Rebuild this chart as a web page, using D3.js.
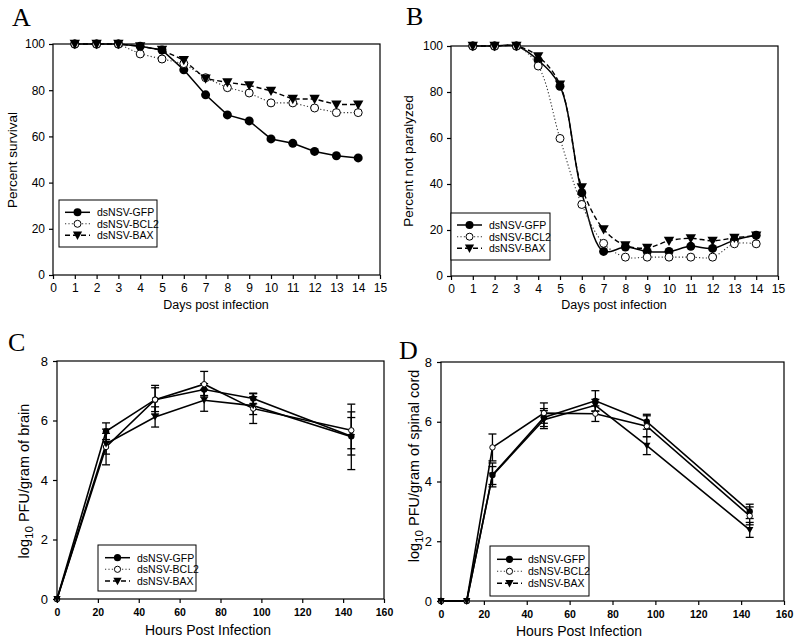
<!DOCTYPE html>
<html><head><meta charset="utf-8">
<script src="https://cdn.jsdelivr.net/npm/d3@7"></script>
<style>body{margin:0;background:#fff}svg{display:block}</style>
</head><body>
<svg id="c" width="800" height="642"></svg>
<script>
// ---------- DATA ----------
const seriesNames = ["dsNSV-GFP", "dsNSV-BCL2", "dsNSV-BAX"];
const days = [1,2,3,4,5,6,7,8,9,10,11,12,13,14];
const dayTicks = [0,1,2,3,4,5,6,7,8,9,10,11,12,13,14,15];
const pctTicks = [0,20,40,60,80,100];
// Panel A: percent survival
const survGFP  = [100,100,100,99,97.4,88.8,78,69.3,66.7,58.9,57,53.5,51.6,50.7];
const survBCL2 = [100,100,100,95.7,93.5,91.5,85.4,81.1,78.8,74.5,74.5,72.3,70.3,70.3];
const survBAX  = [100,100,100,99,97.4,93,85,83.4,82.1,79.7,76.2,76.2,73.8,73.8];
// Panel B: percent not paralyzed
const paraGFP  = [100,100,100,93.8,82.5,36.2,10.7,12.6,10.7,10.7,12.9,12,15.6,17.7];
const paraBCL2 = [100,100,100,91.3,59.8,31.1,14.2,8.2,8.2,8.2,8.2,8.2,14,14];
const paraBAX  = [100,100,100,95.5,83.2,38.5,20.3,13.3,12.2,15.3,16.4,15.3,16.6,17.5];
// Panel C: log10 PFU / gram of brain
const hoursC = [0,24,48,72,96,144];
const brainGFP     = [0,5.64,6.70,7.04,6.74,5.47];
const brainGFPErr  = [0,0.28,0.48,0.20,0.18,0.63];
const brainBCL2    = [0,5.11,6.70,7.22,6.40,5.67];
const brainBCL2Err = [0,0.60,0.40,0.43,0.50,0.62];
const brainBAX     = [0,5.22,6.12,6.68,6.50,5.45];
const brainBAXErr  = [0,0.35,0.34,0.37,0.30,1.10];
// Panel D: log10 PFU / gram of spinal cord
const hoursD = [0,12,24,48,72,96,144];
const cordGFP     = [0,0,4.22,6.14,6.70,6.00,3.00];
const cordGFPErr  = [0,0,0.40,0.30,0.34,0.25,0.24];
const cordBCL2    = [0,0,5.14,6.29,6.27,5.85,2.85];
const cordBCL2Err = [0,0,0.45,0.34,0.26,0.35,0.30];
const cordBAX     = [0,0,4.20,6.07,6.55,5.20,2.38];
const cordBAXErr  = [0,0,0.30,0.30,0.20,0.30,0.25];
const hourTicks = [0,20,40,60,80,100,120,140,160];
const logTicks = [0,2,4,6,8];

// ---------- DRAWING ----------
const svg = d3.select("#c");
const SANS = "'Liberation Sans', Arial, sans-serif";
const SERIF = "'Liberation Serif', 'Times New Roman', serif";
const lineStyles = [
  {dash: null, color: "#000", w: 1.5},
  {dash: "1.2,2.2", color: "#333", w: 1.1},
  {dash: "5,3", color: "#000", w: 1.4}
];

function marker(g, type, x, y, r) {
  if (type === 0) {
    g.append("circle").attr("cx", x).attr("cy", y).attr("r", r).attr("fill", "#000");
  } else if (type === 1) {
    g.append("circle").attr("cx", x).attr("cy", y).attr("r", r - 0.5).attr("fill", "#fff").attr("stroke", "#000").attr("stroke-width", 1);
  } else {
    const s = r * 1.15;
    g.append("path").attr("d", `M${x - s},${y - s * 0.8}L${x + s},${y - s * 0.8}L${x},${y + s * 1.0}Z`).attr("fill", "#000");
  }
}

function panel(o) {
  const g = svg.append("g");
  const x = d3.scaleLinear().domain(o.xDomain).range([o.x0, o.x1]);
  const y = d3.scaleLinear().domain(o.yDomain).range([o.y1, o.y0]);

  // frame
  g.append("rect").attr("x", o.x0).attr("y", o.y0).attr("width", o.x1 - o.x0).attr("height", o.y1 - o.y0)
    .attr("fill", "none").attr("stroke", "#000").attr("stroke-width", o.frameW || 1.2);

  // axes
  const ax = g.append("g").attr("transform", `translate(0,${o.y1})`)
    .call(d3.axisBottom(x).tickValues(o.xTicks).tickSize(4).tickPadding(o.xPad).tickFormat(d3.format("d")));
  ax.select(".domain").remove();
  ax.selectAll("line").attr("stroke", "#000").attr("stroke-width", 1.2);
  ax.selectAll("text").attr("font-family", SANS).attr("font-size", o.xTickFont).attr("font-weight", o.xTickWeight || "normal").attr("fill", "#000");

  const ay = g.append("g").attr("transform", `translate(${o.x0},0)`)
    .call(d3.axisLeft(y).tickValues(o.yTicks).tickSize(4).tickPadding(o.yPad).tickFormat(d3.format("d")));
  ay.select(".domain").remove();
  ay.selectAll("line").attr("stroke", "#000").attr("stroke-width", 1.2);
  ay.selectAll("text").attr("font-family", SANS).attr("font-size", o.yTickFont).attr("fill", "#000");

  // panel letter
  g.append("text").attr("x", o.letterX).attr("y", o.letterY).text(o.letter)
    .attr("font-family", SERIF).attr("font-size", 26).attr("fill", "#000");

  // x title
  g.append("text").attr("x", o.xTitleX).attr("y", o.xTitleY).attr("text-anchor", "middle")
    .attr("font-family", SANS).attr("font-size", o.xTitleFont).attr("fill", "#000").text(o.xTitle);

  // y title
  const yt = g.append("text").attr("transform", `translate(${o.yTitleX},${o.yTitleY}) rotate(-90)`)
    .attr("text-anchor", "middle").attr("font-family", SANS).attr("font-size", o.yTitleFont).attr("fill", "#000");
  if (o.yTitleLog) {
    yt.append("tspan").text("log");
    yt.append("tspan").text("10").attr("font-size", o.yTitleFont * 0.8).attr("dy", 4);
    yt.append("tspan").text(" " + o.yTitle).attr("dy", -4);
  } else {
    yt.text(o.yTitle);
  }

  // series
  const curve = o.smooth ? d3.curveCatmullRom.alpha(0.5) : d3.curveLinear;
  const line = d3.line().x(d => x(d[0])).y(d => y(d[1])).curve(curve);
  o.series.forEach((vals, si) => {
    const pts = o.xs.map((xv, i) => [xv, vals[i]]);
    const st = o.plainLines ? lineStyles[0] : lineStyles[si];
    g.append("path").attr("d", line(pts)).attr("fill", "none").attr("stroke", st.color)
      .attr("stroke-width", o.plainLines ? 1.6 : st.w).attr("stroke-dasharray", st.dash);
  });
  // error bars
  if (o.errs) {
    o.errs.forEach((errs, si) => {
      o.xs.forEach((xv, i) => {
        const e = errs[i];
        if (!e) return;
        const v = o.series[si][i];
        const cx = x(xv), ya = y(v + e), yb = y(v - e);
        g.append("line").attr("x1", cx).attr("x2", cx).attr("y1", ya).attr("y2", yb).attr("stroke", "#000").attr("stroke-width", 1.3);
        [ya, yb].forEach(yy => g.append("line").attr("x1", cx - 4).attr("x2", cx + 4).attr("y1", yy).attr("y2", yy).attr("stroke", "#000").attr("stroke-width", 1.3));
      });
    });
  }
  // markers
  o.series.forEach((vals, si) => {
    o.xs.forEach((xv, i) => marker(g, si, x(xv), y(vals[i]), o.r));
  });

  // legend
  const L = o.legend;
  g.append("rect").attr("x", L.x).attr("y", L.y).attr("width", L.w).attr("height", L.h)
    .attr("fill", "#fff").attr("stroke", "#000").attr("stroke-width", 1);
  seriesNames.forEach((name, si) => {
    const ry = L.rows[si];
    const st = lineStyles[si];
    g.append("line").attr("x1", L.lx0).attr("x2", L.lx1).attr("y1", ry).attr("y2", ry)
      .attr("stroke", st.color).attr("stroke-width", st.w).attr("stroke-dasharray", st.dash);
    marker(g, si, (L.lx0 + L.lx1) / 2, ry, L.r);
    g.append("text").attr("x", L.tx).attr("y", ry + 3.8).text(name)
      .attr("font-family", SANS).attr("font-size", L.font).attr("fill", "#000");
  });
}

panel({
  letter: "A", letterX: 12, letterY: 26,
  x0: 53, x1: 380, y0: 44, y1: 275,
  xDomain: [0, 15], yDomain: [0, 100], xTicks: dayTicks, yTicks: pctTicks,
  xPad: 4, yPad: 4, xTickFont: 12, yTickFont: 12,
  xTitle: "Days post infection", xTitleX: 216, xTitleY: 309, xTitleFont: 12.5,
  yTitle: "Percent survival", yTitleX: 17, yTitleY: 160, yTitleFont: 13.5,
  xs: days, series: [survGFP, survBCL2, survBAX], r: 4.5, smooth: false,
  legend: {x: 59, y: 200, w: 98, h: 47, rows: [212.3, 223.8, 235.3], lx0: 65, lx1: 90, tx: 97, r: 4, font: 10.5}
});

panel({
  letter: "B", letterX: 406, letterY: 25,
  x0: 451, x1: 778, y0: 46, y1: 276,
  xDomain: [0, 15], yDomain: [0, 100], xTicks: dayTicks, yTicks: pctTicks,
  xPad: 4, yPad: 4, xTickFont: 12, yTickFont: 12,
  xTitle: "Days post infection", xTitleX: 614, xTitleY: 309, xTitleFont: 12.5,
  yTitle: "Percent not paralyzed", yTitleX: 413, yTitleY: 161, yTitleFont: 13.5,
  xs: days, series: [paraGFP, paraBCL2, paraBAX], r: 4.5, smooth: true,
  legend: {x: 451, y: 213, w: 99, h: 47, rows: [225, 236.7, 248.3], lx0: 457, lx1: 482, tx: 489, r: 4, font: 10.5}
});

panel({
  letter: "C", letterX: 8, letterY: 351,
  x0: 57, x1: 384, y0: 361, y1: 599,
  xDomain: [0, 160], yDomain: [0, 8], xTicks: hourTicks, yTicks: logTicks,
  xPad: 6, yPad: 5, xTickFont: 10.5, xTickWeight: "bold", yTickFont: 13,
  xTitle: "Hours Post Infection", xTitleX: 208, xTitleY: 635, xTitleFont: 14,
  yTitle: "PFU/gram of brain", yTitleLog: true, yTitleX: 29, yTitleY: 481, yTitleFont: 14.5,
  xs: hoursC, series: [brainGFP, brainBCL2, brainBAX], errs: [brainGFPErr, brainBCL2Err, brainBAXErr],
  r: 3.2, plainLines: true,
  legend: {x: 98, y: 545, w: 98, h: 46, rows: [557.7, 569.3, 581], lx0: 105, lx1: 130, tx: 137, r: 3.6, font: 10.5}
});

panel({
  letter: "D", letterX: 399, letterY: 359,
  x0: 441, x1: 784, y0: 362, y1: 601,
  xDomain: [0, 160], yDomain: [0, 8], xTicks: hourTicks, yTicks: logTicks,
  xPad: 6, yPad: 5, xTickFont: 10.5, xTickWeight: "bold", yTickFont: 13,
  xTitle: "Hours Post Infection", xTitleX: 579, xTitleY: 636, xTitleFont: 14,
  yTitle: "PFU/gram of spinal cord", yTitleLog: true, yTitleX: 419, yTitleY: 466, yTitleFont: 14.5,
  xs: hoursD, series: [cordGFP, cordBCL2, cordBAX], errs: [cordGFPErr, cordBCL2Err, cordBAXErr],
  r: 3.2, plainLines: true,
  legend: {x: 490, y: 546, w: 99, h: 50, rows: [559.3, 571.3, 583.3], lx0: 497, lx1: 522, tx: 528, r: 3.6, font: 10.5}
});
</script>
</body></html>
